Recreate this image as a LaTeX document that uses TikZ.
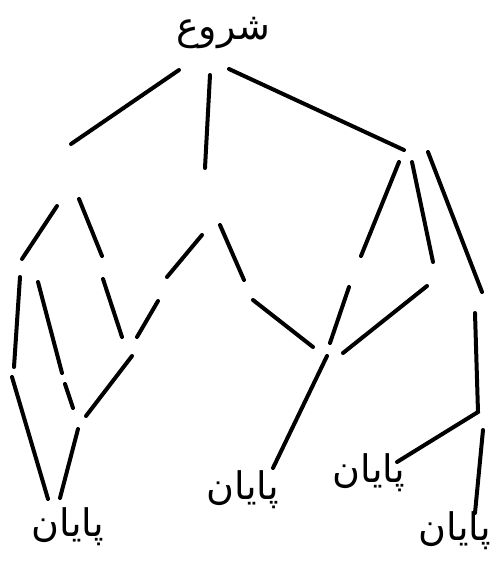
\documentclass[tikz,border=0pt]{standalone}
\usepackage{fontspec}
\newfontfamily\arabicfont[Script=Arabic]{DejaVu Sans}
\TeXXeTstate=1
\usetikzlibrary{positioning}

\begin{document}
\begin{tikzpicture}[x=1pt, y=-1pt,
			edge/.style={line width=4pt, line cap=round},
			term/.style={font=\arabicfont\fontsize{38}{42}\selectfont,
				inner sep=0pt}]
			
			\useasboundingbox (0,0) rectangle (503,568);
			
			% start and end labels
			\node[term] at (223,33) (start){\beginR شروع\endR};
			\node[term] at (68,527) (endA){\beginR پایان\endR};
			\node[term] at (243,490) (endB){\beginR پایان\endR};
			\node[term] at (369,473) (endC){\beginR پایان\endR};
			\node[term] at (455,531) (endD){\beginR پایان\endR};
			
			% ports of the hidden nodes
			\coordinate (s1) at (179,70);
			\coordinate (s2) at (210,75);
			\coordinate (s3) at (229,69);
			\coordinate (a1) at (71,144);
			\coordinate (a2) at (57,206);
			\coordinate (a3) at (79,199);
			\coordinate (b1) at (205,168);
			\coordinate (b2) at (202,235);
			\coordinate (b3) at (220,225);
			\coordinate (c1) at (404,150);
			\coordinate (c2) at (399,162);
			\coordinate (c3) at (412,162);
			\coordinate (c4) at (428,152);
			\coordinate (d1) at (22,259);
			\coordinate (d2) at (20,277);
			\coordinate (d3) at (38,282);
			\coordinate (e1) at (102,256);
			\coordinate (e2) at (103,279);
			\coordinate (f1) at (167,277);
			\coordinate (f2) at (158,301);
			\coordinate (g1) at (244,280);
			\coordinate (g2) at (253,300);
			\coordinate (h1) at (361,256);
			\coordinate (h2) at (349,287);
			\coordinate (i1) at (433,262);
			\coordinate (i2) at (427,286);
			\coordinate (j1) at (482,292);
			\coordinate (j2) at (475,313);
			\coordinate (k1) at (122,337);
			\coordinate (k2) at (137,337);
			\coordinate (k3) at (132,356);
			\coordinate (l1) at (313,347);
			\coordinate (l2) at (330,343);
			\coordinate (l3) at (343,353);
			\coordinate (l4) at (327,356);
			\coordinate (m1) at (14,367);
			\coordinate (m2) at (12,377);
			\coordinate (n1) at (62,373);
			\coordinate (n2) at (65,384);
			\coordinate (o1) at (86,416);
			\coordinate (o2) at (73,408);
			\coordinate (o3) at (78,429);
			\coordinate (p1) at (478,412);
			\coordinate (p2) at (483,430);
			
			% ports of the end labels
			\coordinate (endA1) at (48,499);
			\coordinate (endA2) at (60,498);
			\coordinate (endB1) at (273,468);
			\coordinate (endC1) at (397,462);
			\coordinate (endD1) at (475,513);
			
			\foreach \from/\to in {s1/a1, s2/b1, s3/c1,
				a2/d1, a3/e1, b2/f1, b3/g1,
				c2/h1, c3/i1, c4/j1,
				d2/m1, d3/n1, e2/k1, f2/k2,
				g2/l1, h2/l2, i2/l3,
				k3/o1, n2/o2,
				m2/endA1, o3/endA2, l4/endB1, p2/endD1}
				\draw[edge] (\from) -- (\to);
			
			\draw[edge, line join=miter] (j2) -- (p1) -- (endC1);
		\end{tikzpicture}
\end{document}
